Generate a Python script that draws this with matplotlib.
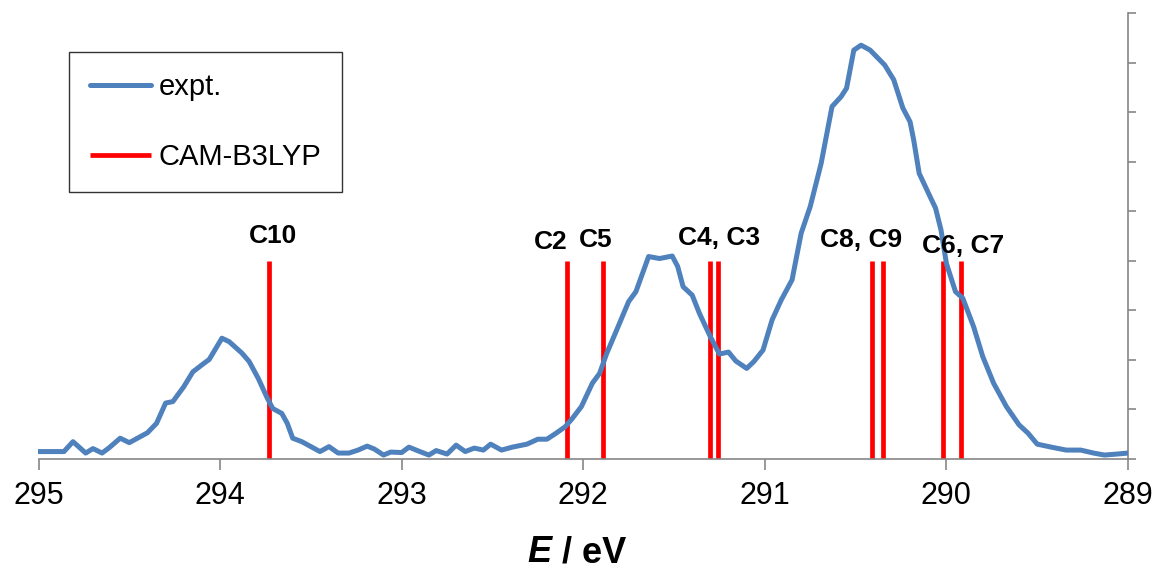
import matplotlib.pyplot as plt
import numpy as np

plt.rcParams['font.family'] = ['Liberation Sans', 'DejaVu Sans']

# experimental C 1s spectrum (photon energy in eV, intensity in arb. units)
expt_energy = [295.00, 294.86, 294.81, 294.74, 294.70, 294.65, 294.61, 294.55, 294.50, 294.44,
               294.40, 294.35, 294.30, 294.26, 294.20, 294.15, 294.09, 294.06, 293.99, 293.95,
               293.88, 293.84, 293.79, 293.74, 293.71, 293.66, 293.63, 293.60, 293.55, 293.51,
               293.45, 293.40, 293.35, 293.29, 293.24, 293.19, 293.15, 293.10, 293.06, 293.00,
               292.96, 292.90, 292.85, 292.81, 292.75, 292.70, 292.65, 292.60, 292.55, 292.51,
               292.45, 292.39, 292.31, 292.25, 292.20, 292.15, 292.10, 292.06, 292.01, 291.95,
               291.91, 291.87, 291.82, 291.75, 291.71, 291.64, 291.58, 291.51, 291.48, 291.45,
               291.40, 291.36, 291.30, 291.25, 291.20, 291.16, 291.10, 291.06, 291.01, 290.96,
               290.91, 290.85, 290.80, 290.75, 290.69, 290.63, 290.58, 290.55, 290.51, 290.47,
               290.42, 290.34, 290.29, 290.24, 290.20, 290.18, 290.15, 290.09, 290.06, 290.03,
               290.00, 289.95, 289.91, 289.85, 289.80, 289.74, 289.67, 289.60, 289.55, 289.50,
               289.41, 289.34, 289.26, 289.19, 289.13, 289.06, 289.00]
expt_intensity = [0.14, 0.14, 0.34, 0.11, 0.20, 0.11, 0.22, 0.41, 0.32, 0.44,
                  0.52, 0.71, 1.12, 1.15, 1.45, 1.75, 1.92, 2.00, 2.43, 2.36,
                  2.13, 1.96, 1.62, 1.22, 1.01, 0.91, 0.71, 0.41, 0.34, 0.26,
                  0.14, 0.24, 0.11, 0.11, 0.17, 0.25, 0.19, 0.07, 0.13, 0.12,
                  0.23, 0.14, 0.07, 0.16, 0.09, 0.27, 0.14, 0.21, 0.17, 0.29,
                  0.17, 0.23, 0.29, 0.39, 0.39, 0.51, 0.64, 0.81, 1.05, 1.52,
                  1.72, 2.13, 2.56, 3.17, 3.37, 4.08, 4.04, 4.09, 3.88, 3.47,
                  3.30, 2.93, 2.46, 2.11, 2.15, 1.97, 1.82, 1.96, 2.19, 2.80,
                  3.20, 3.61, 4.55, 5.09, 5.96, 7.11, 7.31, 7.48, 8.25, 8.35,
                  8.25, 7.95, 7.65, 7.08, 6.80, 6.43, 5.76, 5.29, 5.06, 4.62,
                  3.94, 3.37, 3.24, 2.66, 2.06, 1.52, 1.05, 0.68, 0.51, 0.29,
                  0.22, 0.17, 0.17, 0.11, 0.07, 0.09, 0.11]

# CAM-B3LYP transition energies
calc_energy = [293.73, 292.09, 291.89, 291.30, 291.26, 290.41, 290.35, 290.02, 289.92]
calc_height = [4, 4, 4, 4, 4, 4, 4, 4, 4]

# atom labels above the sticks
label_text = ['C10', 'C2', 'C5', 'C4, C3', 'C8, C9', 'C6, C7']
label_x = [293.71, 292.18, 291.93, 291.25, 290.47, 289.91]
label_y = [4.35, 4.23, 4.27, 4.31, 4.27, 4.15]

fig = plt.figure(figsize=(11.56, 5.76), dpi=100)
ax = fig.add_axes([38.5 / 1156, 1 - 458.5 / 576, (1128 - 38.5) / 1156, (458.5 - 13) / 576])

ax.vlines(calc_energy, 0, calc_height, colors='#ff0000', linewidth=3.4, label='CAM-B3LYP', zorder=2)
ax.plot(expt_energy, expt_intensity, color='#4f81bd', linewidth=3.6, label='expt.',
        solid_joinstyle='round', solid_capstyle='round', zorder=3)

for txt, lx, ly in zip(label_text, label_x, label_y):
    ax.text(lx, ly, txt, ha='center', va='baseline', fontsize=19, fontweight='bold')

ax.set_xlim(295, 289)
ax.set_ylim(0, 9)
ax.set_xticks(np.arange(295, 288, -1))
ax.set_xticklabels([str(v) for v in range(295, 288, -1)])
ax.set_yticks(np.arange(0, 10, 1))

grey = '#868686'
for side in ['left', 'top']:
    ax.spines[side].set_visible(False)
for side in ['bottom', 'right']:
    ax.spines[side].set_color(grey)
    ax.spines[side].set_linewidth(1.2)
ax.yaxis.tick_right()
ax.tick_params(axis='y', which='both', right=True, left=False, labelright=False,
               direction='out', length=6, width=1.2, color=grey)
ax.tick_params(axis='x', direction='out', length=8, width=1.2, color=grey,
               labelsize=22, pad=8)

# axis title: italic E followed by the unit
ax.text(0.471, -0.212, 'E', transform=ax.transAxes, fontsize=26, fontweight='bold',
        fontstyle='italic', ha='right', va='center')
ax.text(0.471, -0.212, ' / eV', transform=ax.transAxes, fontsize=26, fontweight='bold',
        ha='left', va='center')

handles, labels = ax.get_legend_handles_labels()
leg = ax.legend(handles[::-1], labels[::-1], loc='upper left',
                bbox_to_anchor=(69 / 1156, 1 - 52 / 576), bbox_transform=fig.transFigure,
                borderaxespad=0, fontsize=21, frameon=True, fancybox=False,
                handlelength=2.1, handletextpad=0.25, labelspacing=1.45, borderpad=0.72)
leg.get_frame().set_edgecolor('black')
leg.get_frame().set_linewidth(1.0)

fig.savefig('out.png', dpi=100)
